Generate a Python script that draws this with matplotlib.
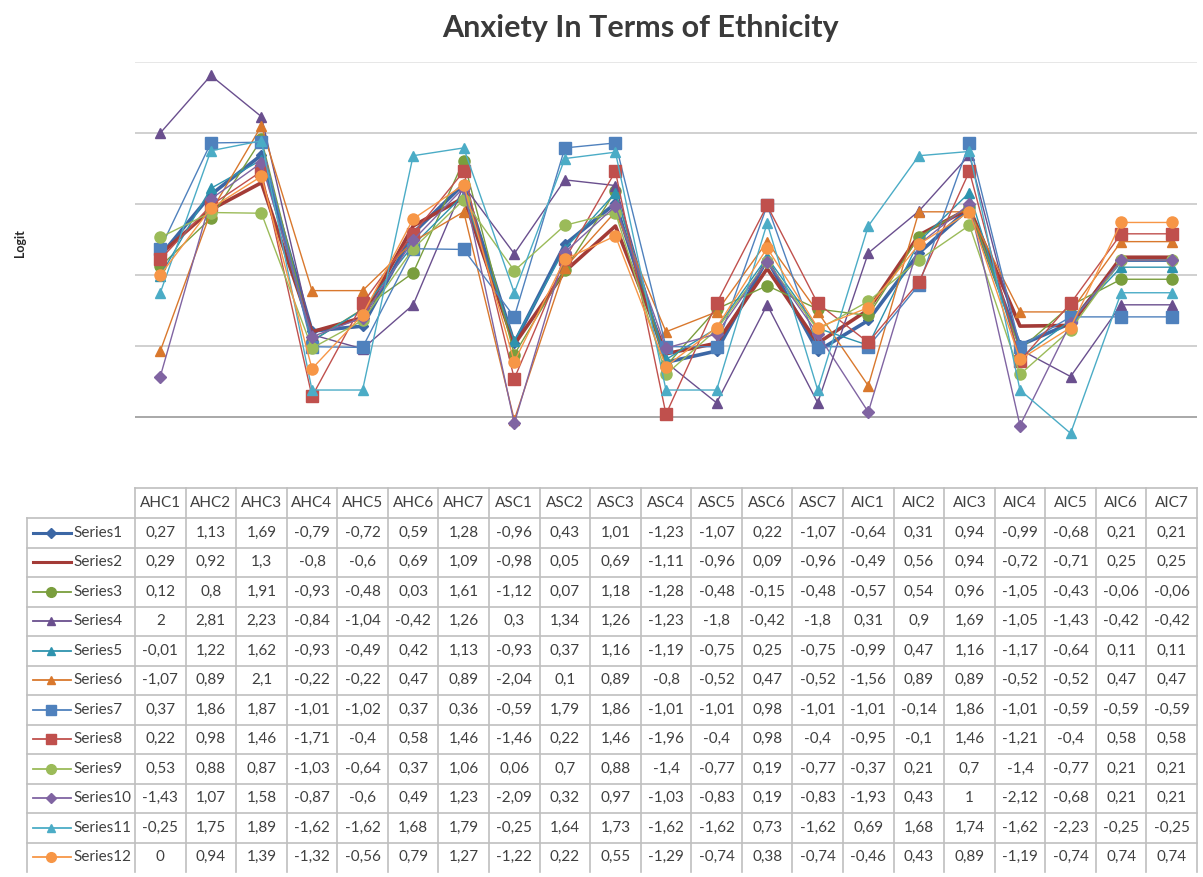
import numpy as np
import matplotlib.pyplot as plt
from matplotlib.lines import Line2D

plt.rcParams['font.family'] = ['Lato', 'DejaVu Sans']

categories = ['AHC1', 'AHC2', 'AHC3', 'AHC4', 'AHC5', 'AHC6', 'AHC7',
              'ASC1', 'ASC2', 'ASC3', 'ASC4', 'ASC5', 'ASC6', 'ASC7',
              'AIC1', 'AIC2', 'AIC3', 'AIC4', 'AIC5', 'AIC6', 'AIC7']
series_names = ['Series%d' % i for i in range(1, 13)]

s1 = [0.27, 1.13, 1.69, -0.79, -0.72, 0.59, 1.28, -0.96, 0.43, 1.01, -1.23, -1.07, 0.22, -1.07, -0.64, 0.31, 0.94, -0.99, -0.68, 0.21, 0.21]
s2 = [0.29, 0.92, 1.3, -0.8, -0.6, 0.69, 1.09, -0.98, 0.05, 0.69, -1.11, -0.96, 0.09, -0.96, -0.49, 0.56, 0.94, -0.72, -0.71, 0.25, 0.25]
s3 = [0.12, 0.8, 1.91, -0.93, -0.48, 0.03, 1.61, -1.12, 0.07, 1.18, -1.28, -0.48, -0.15, -0.48, -0.57, 0.54, 0.96, -1.05, -0.43, -0.06, -0.06]
s4 = [2, 2.81, 2.23, -0.84, -1.04, -0.42, 1.26, 0.3, 1.34, 1.26, -1.23, -1.8, -0.42, -1.8, 0.31, 0.9, 1.69, -1.05, -1.43, -0.42, -0.42]
s5 = [-0.01, 1.22, 1.62, -0.93, -0.49, 0.42, 1.13, -0.93, 0.37, 1.16, -1.19, -0.75, 0.25, -0.75, -0.99, 0.47, 1.16, -1.17, -0.64, 0.11, 0.11]
s6 = [-1.07, 0.89, 2.1, -0.22, -0.22, 0.47, 0.89, -2.04, 0.1, 0.89, -0.8, -0.52, 0.47, -0.52, -1.56, 0.89, 0.89, -0.52, -0.52, 0.47, 0.47]
s7 = [0.37, 1.86, 1.87, -1.01, -1.02, 0.37, 0.36, -0.59, 1.79, 1.86, -1.01, -1.01, 0.98, -1.01, -1.01, -0.14, 1.86, -1.01, -0.59, -0.59, -0.59]
s8 = [0.22, 0.98, 1.46, -1.71, -0.4, 0.58, 1.46, -1.46, 0.22, 1.46, -1.96, -0.4, 0.98, -0.4, -0.95, -0.1, 1.46, -1.21, -0.4, 0.58, 0.58]
s9 = [0.53, 0.88, 0.87, -1.03, -0.64, 0.37, 1.06, 0.06, 0.7, 0.88, -1.4, -0.77, 0.19, -0.77, -0.37, 0.21, 0.7, -1.4, -0.77, 0.21, 0.21]
s10 = [-1.43, 1.07, 1.58, -0.87, -0.6, 0.49, 1.23, -2.09, 0.32, 0.97, -1.03, -0.83, 0.19, -0.83, -1.93, 0.43, 1, -2.12, -0.68, 0.21, 0.21]
s11 = [-0.25, 1.75, 1.89, -1.62, -1.62, 1.68, 1.79, -0.25, 1.64, 1.73, -1.62, -1.62, 0.73, -1.62, 0.69, 1.68, 1.74, -1.62, -2.23, -0.25, -0.25]
s12 = [0, 0.94, 1.39, -1.32, -0.56, 0.79, 1.27, -1.22, 0.22, 0.55, -1.29, -0.74, 0.38, -0.74, -0.46, 0.43, 0.89, -1.19, -0.74, 0.74, 0.74]
series = [s1, s2, s3, s4, s5, s6, s7, s8, s9, s10, s11, s12]

colors = ['#3C67A5', '#A33B37', '#7A9E3D', '#6A4F8E', '#2E93AE', '#D9782D',
          '#4F81BD', '#C0504D', '#9BBB59', '#8064A2', '#4BACC6', '#F79646']
markers = ['D', None, 'o', '^', '^', '^', 's', 's', 'o', 'D', '^', 'o']
msizes = [5, 0, 8, 7, 7, 7, 8, 8, 8, 6, 7, 8]
lwidths = [2.6, 2.6, 1, 1, 1, 1, 1, 1, 1, 1, 1, 1]

W, H = 1203, 877
fig = plt.figure(figsize=(W / 100, H / 100), dpi=100)

# plot area in pixels: x 135..1197, y=3 at 62px, 71px per unit
top_px, unit_px = 62, 71.0
ymin, ymax = -2.5, 3.0
bot_px = top_px + (ymax - ymin) * unit_px
left_px, right_px = 135, 1197
ax = fig.add_axes([left_px / W, 1 - bot_px / H, (right_px - left_px) / W, (bot_px - top_px) / H])

x = np.arange(len(categories))
for vals, c, m, ms, lw in zip(series, colors, markers, msizes, lwidths):
    ax.plot(x, vals, color=c, marker=m, markersize=ms, linewidth=lw, clip_on=False,
            markeredgecolor=c)

for g in range(-2, 4):
    col = '#9A9A9A' if g == -2 else ('#E3E3E3' if g == 3 else '#C8C8C8')
    ax.axhline(g, color=col, linewidth=1.2, zorder=0)
ax.set_xlim(-0.5, len(categories) - 0.5)
ax.set_ylim(ymin, ymax)
ax.set_xticks([])
ax.set_yticks([])
for sp in ax.spines.values():
    sp.set_visible(False)
ax.patch.set_alpha(0)

fig.text(640 / W, 1 - 28 / H, 'Anxiety In Terms of Ethnicity', ha='center', va='center',
         fontsize=22, fontweight='bold', color='#3A3A3A')
fig.text(20 / W, 1 - 243 / H, 'Logit', rotation=90, ha='center', va='center',
         fontsize=9, fontweight='bold', color='#262626')

# data table drawn in pixel coordinates
tax = fig.add_axes([0, 0, 1, 1])
tax.set_xlim(0, W)
tax.set_ylim(H, 0)
tax.axis('off')
tax.patch.set_alpha(0)

gcol = '#BFBFBF'
ncol = len(categories)
cw = (right_px - left_px) / ncol
head_top, head_bot = 488, 518
rh = 29.5
lab_left = 27
tab_bot = head_bot + rh * len(series)

# header
tax.plot([left_px, right_px], [head_top, head_top], color=gcol, lw=1.2)
for i in range(ncol + 1):
    xx = left_px + i * cw
    tax.plot([xx, xx], [head_top, tab_bot], color=gcol, lw=1.2)
tax.plot([lab_left, lab_left], [head_bot, tab_bot], color=gcol, lw=1.2)
for r in range(len(series)):
    yy = head_bot + r * rh
    tax.plot([lab_left, right_px], [yy, yy], color=gcol, lw=1.2)

for i, cat in enumerate(categories):
    tax.text(left_px + (i + 0.5) * cw, (head_top + head_bot) / 2, cat, ha='center', va='center',
             fontsize=11, color='#404040')

for r, (name, vals) in enumerate(zip(series_names, series)):
    yc = head_bot + (r + 0.5) * rh
    c = colors[r]
    tax.add_line(Line2D([33, 71], [yc, yc], color=c, lw=2.2 if r < 2 else 1.3))
    if markers[r]:
        tax.add_line(Line2D([51], [yc], color=c, marker=markers[r],
                            markersize=max(msizes[r] - 1, 5), markeredgecolor=c))
    tax.text(73, yc, name, ha='left', va='center', fontsize=11, color='#404040')
    for i, v in enumerate(vals):
        s = ('%g' % v).replace('.', ',')
        tax.text(left_px + (i + 0.5) * cw, yc, s, ha='center', va='center',
                 fontsize=11, color='#404040')

plt.savefig('out.png', dpi=100)
